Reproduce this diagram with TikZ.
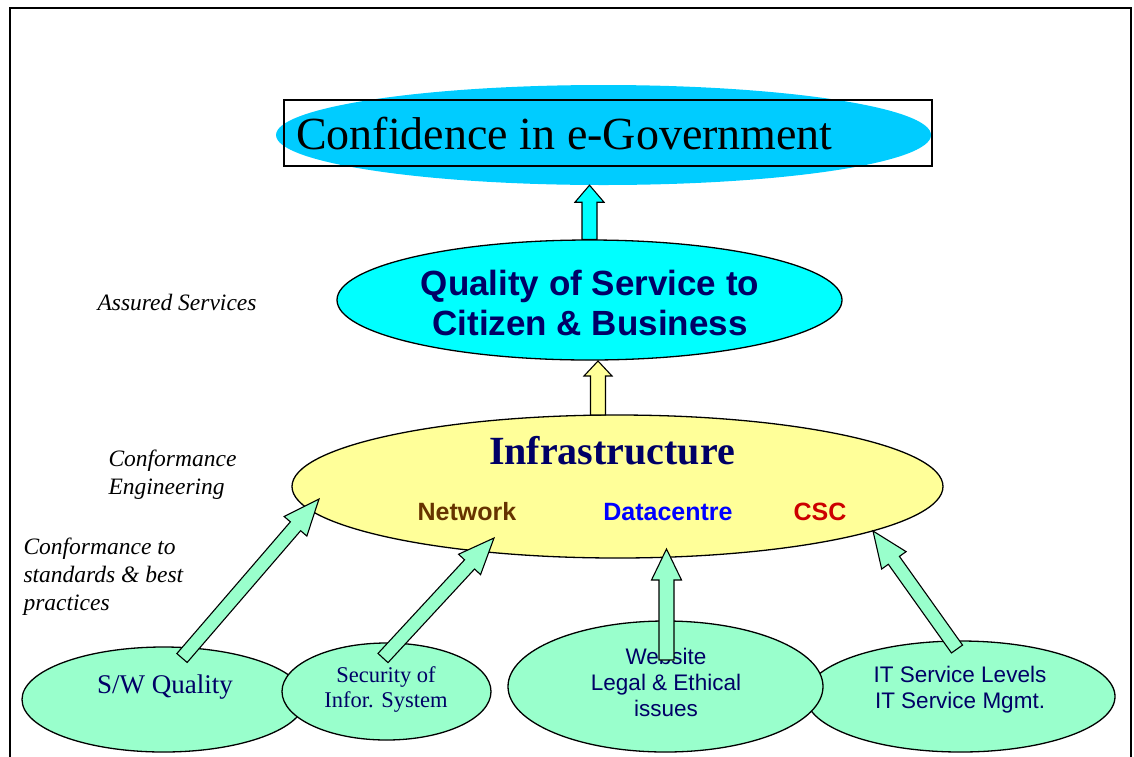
\documentclass[tikz,border=0pt]{standalone}
\usepackage{fontspec}
\setmainfont{Liberation Serif}
\setsansfont{Liberation Sans}
\usetikzlibrary{shapes.geometric,calc}
\definecolor{confcyan}{RGB}{0,204,255}
\definecolor{qoscyan}{RGB}{0,255,255}
\definecolor{infrayellow}{RGB}{255,255,153}
\definecolor{mint}{RGB}{153,255,204}
\definecolor{navy}{RGB}{0,0,102}
\definecolor{netbrown}{RGB}{102,51,0}
\definecolor{dcblue}{RGB}{0,0,255}
\definecolor{cscred}{RGB}{204,0,0}
\tikzset{
  oval/.style={ellipse, draw=black, line width=1.3pt, inner sep=0pt},
  blk/.style={draw=black, line width=1.1pt, line join=miter},
  sidelabel/.style={anchor=west, align=left, font=\itshape\fontsize{23.5}{28}\selectfont},
  bottomserif/.style={align=center, text=navy, font=\fontsize{22.5}{25}\selectfont},
  bottomsans/.style={align=center, text=navy, font=\sffamily\fontsize{22.5}{26}\selectfont},
}
% \blkarrow[shaft half width]{from}{to}{fill}{head length}{head half width}
\newcommand\blkarrow[6][7.5pt]{%
  \coordinate (bh) at ($(#3)!#5!(#2)$);
  \filldraw[blk, fill=#4]
    ($(#2)!#1!90:(#3)$) -- ($(bh)!#1!-90:(#2)$) -- ($(bh)!#6!-90:(#2)$) -- (#3)
    -- ($(bh)!#6!90:(#2)$) -- ($(bh)!#1!90:(#2)$) -- ($(#2)!#1!-90:(#3)$) -- cycle;
}
\begin{document}
\begin{tikzpicture}[x=1pt,y=-1pt]
\useasboundingbox (0,0) rectangle (1134,756);
% frame
\draw[line width=2pt] (10,770) -- (10,8) -- (1131,8) -- (1131,770);

% top
\node[ellipse, fill=confcyan, inner sep=0pt, minimum width=655pt, minimum height=100pt] (confov) at (603.5,135) {};
\node[draw=black, line width=1.2pt, minimum width=648pt, minimum height=66pt, inner sep=0pt] (confbox) at (608,133) {};
\node[anchor=west, inner sep=0pt, font=\fontsize{46}{50}\selectfont] (conftext) at (296,134) {Confidence in e-Government};

% quality of service
\node[oval, fill=qoscyan, minimum width=505pt, minimum height=120pt] (qos) at (589.5,300) {};
\node[align=center, text=navy, font=\sffamily\bfseries\fontsize{35}{40}\selectfont] (qostext) at (590,303) {Quality of Service to\\Citizen \& Business};

% infrastructure
\node[oval, fill=infrayellow, minimum width=651pt, minimum height=143pt] (infra) at (617.5,486.5) {};
\node[text=navy, font=\bfseries\fontsize{40}{44}\selectfont] (infratext) at (612,451) {Infrastructure};
\node[text=netbrown, font=\sffamily\bfseries\fontsize{25}{28}\selectfont] (net) at (467,512) {Network};
\node[text=dcblue, font=\sffamily\bfseries\fontsize{25}{28}\selectfont] (dc) at (668,512) {Datacentre};
\node[text=cscred, font=\sffamily\bfseries\fontsize{25}{28}\selectfont] (csc) at (820,512) {CSC};

% side labels
\node[sidelabel] (assured) at (94,302) {Assured Services};
\node[sidelabel] (confeng) at (105,475) {Conformance\\Engineering};
\node[sidelabel] (confstd) at (20,577) {Conformance to\\standards \& best\\practices};

% bottom ellipses
\node[oval, fill=mint, minimum width=283pt, minimum height=105pt] (sw) at (163.5,699.5) {};
\node[oval, fill=mint, minimum width=309pt, minimum height=111pt] (it) at (960.5,696.5) {};
\node[oval, fill=mint, minimum width=209pt, minimum height=97pt] (sec) at (386.5,691.5) {};
\node[oval, fill=mint, minimum width=315pt, minimum height=131pt] (web) at (665.5,686.5) {};
\node[text=navy, font=\fontsize{27}{30}\selectfont] (swtext) at (165,687) {S/W Quality};
\node[bottomserif] (sectext) at (386,689) {Security of\\Infor. System};
\node[bottomsans] (webtext) at (666,682) {Website\\Legal \& Ethical\\issues};
\node[bottomsans] (ittext) at (960,690) {IT Service Levels\\IT Service Mgmt.};

% arrow end points
\coordinate (a1s) at (qos.north);
\coordinate (a1e) at (qos.north |- confov.south);
\coordinate (a2s) at (598,415);
\coordinate (a2e) at (598,361);
\coordinate (swa) at (182,658);
\coordinate (swb) at (319,499);
\coordinate (seca) at (383,658);
\coordinate (secb) at (494,538);
\coordinate (weba) at (666.5,660);
\coordinate (webb) at (666.5,549);
\coordinate (ita) at (957,649);
\coordinate (itb) at (873,531);

% arrows
\blkarrow{a1s}{a1e}{qoscyan}{17pt}{14.5pt}
\blkarrow{a2s}{a2e}{infrayellow}{15pt}{14pt}
\blkarrow[6.8pt]{swa}{swb}{mint}{36pt}{15pt}
\blkarrow[6.8pt]{seca}{secb}{mint}{36pt}{15pt}
\blkarrow{weba}{webb}{mint}{31pt}{15pt}
\blkarrow[6.8pt]{ita}{itb}{mint}{36pt}{15pt}
\end{tikzpicture}
\end{document}
